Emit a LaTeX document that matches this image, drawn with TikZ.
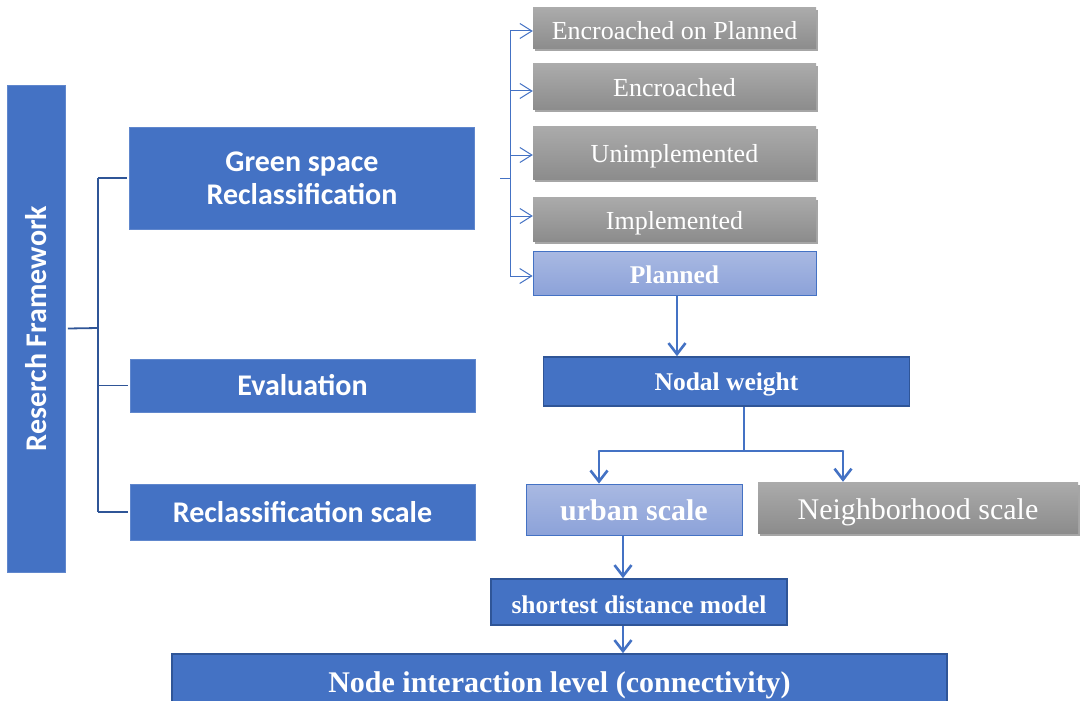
\documentclass[tikz,border=0pt]{standalone}
\usepackage{fontspec}
\setmainfont{Liberation Serif}
\newfontfamily\calfont{Carlito}
\usetikzlibrary{arrows.meta,shadows}
\definecolor{mblue}{HTML}{4472C4}
\definecolor{dblue}{HTML}{2F5597}
\definecolor{gtop}{HTML}{ABABAB}
\definecolor{gbot}{HTML}{8C8C8C}
\definecolor{ltop}{HTML}{A9B9E2}
\definecolor{lbot}{HTML}{8CA2D9}
\begin{document}
\begin{tikzpicture}[x=1pt,y=-1pt,
  basel/.style={text height=#1, text depth=0pt},
  bluebox/.style={fill=mblue, draw=mblue!85!white, line width=0.8pt, text=white, inner sep=0pt, align=center,
    font=\calfont\bfseries\fontsize{30}{33}\selectfont},
  darkbox/.style={fill=mblue, draw=dblue, line width=1.6pt, text=white, inner sep=0pt,
    font=\bfseries\fontsize{25.5}{28}\selectfont},
  graybox/.style={top color=gtop, bottom color=gbot, draw=none, text=white, inner sep=0pt,
    drop shadow={shadow xshift=2pt, shadow yshift=-2.5pt, opacity=0.35, fill=black},
    font=\fontsize{26}{28}\selectfont, basel=20pt},
  lightbox/.style={top color=ltop, bottom color=lbot, draw=mblue, line width=0.8pt, text=white, inner sep=0pt,
    font=\bfseries\fontsize{25.5}{28}\selectfont},
  conn/.style={draw=dblue, line width=1.8pt},
  thinconn/.style={draw=mblue, line width=1pt},
  thinarr/.style={draw=mblue, line width=1pt, -{Straight Barb[length=12pt, width=15pt]}},
  thickconn/.style={draw=mblue, line width=2.6pt},
  thickarr/.style={draw=mblue, line width=2.6pt, -{Straight Barb[length=11pt, width=17pt]}}]
\clip (0,0) rectangle (1080,701);
\fill[white] (0,0) rectangle (1080,701);

% left column
\node[bluebox, minimum width=58, minimum height=487] (rf) at (36.5,328.5) {};
\node[rotate=90, text=white, font=\calfont\bfseries\fontsize{30}{33}\selectfont] (rft) at (rf.center) {Reserch Framework};
\node[bluebox, minimum width=345, minimum height=102] (green) at (302,178) {Green space\\Reclassification};
\node[bluebox, minimum width=345, minimum height=53] (eval) at (302.5,385.5) {Evaluation};
\node[bluebox, minimum width=345, minimum height=56] (rscale) at (302.5,512) {Reclassification scale};

\coordinate (bx) at (98,328);
\draw[conn] ([xshift=2pt]rf.east) -- (bx);
\draw[conn] (green.west -| bx) -- (rscale.west -| bx);
\draw[conn] (green.west -| bx) -- ([xshift=-2pt]green.west);
\draw[conn] (eval.west -| bx) -- ([xshift=-2pt]eval.west);
\draw[conn] (rscale.west -| bx) -- ([xshift=-2pt]rscale.west);

% right column, categories
\node[graybox, basel=23pt, minimum width=283, minimum height=41] (eop) at (674.5,28.5) {Encroached on Planned};
\node[graybox, minimum width=283, minimum height=46] (enc) at (674.5,87) {Encroached};
\node[graybox, minimum width=283, minimum height=53] (unimp) at (674.5,152.5) {Unimplemented};
\node[graybox, minimum width=283, minimum height=44] (imp) at (674.5,219) {Implemented};
\node[lightbox, basel=20pt, minimum width=283, minimum height=44] (planned) at (674.5,273) {Planned};

\coordinate (tb) at (500,178);
\coordinate (vx) at (510,178);
\draw[thinconn] (tb) -- (vx);
\draw[thinconn] ([yshift=-2.5pt]eop.west -| vx) -- ([yshift=-3pt]planned.west -| vx);
\draw[thinarr] ([yshift=-2.5pt]eop.west -| vx) -- ([yshift=-2.5pt]eop.west);
\draw[thinarr] ([yshift=-4pt]enc.west -| vx) -- ([yshift=-4pt]enc.west);
\draw[thinarr] ([yshift=-2.5pt]unimp.west -| vx) -- ([yshift=-2.5pt]unimp.west);
\draw[thinarr] ([yshift=3pt]imp.west -| vx) -- ([yshift=3pt]imp.west);
\draw[thinarr] ([yshift=-3pt]planned.west -| vx) -- ([yshift=-3pt]planned.west);

% evaluation chain
\node[darkbox, basel=17pt, minimum width=366, minimum height=49] (nodal) at (726.5,381.5) {Nodal weight};
\draw[thickarr] ([xshift=2.5pt]planned.south) -- ([xshift=2.5pt]planned.south |- nodal.north);

\node[lightbox, basel=21pt, minimum width=216, minimum height=51, font=\bfseries\fontsize{30}{32}\selectfont] (urban) at (634,509.5) {urban scale};
\node[graybox, basel=23pt, minimum width=320, minimum height=51, font=\fontsize{30}{32}\selectfont] (neigh) at (918,507.5) {Neighborhood scale};

\coordinate (nb) at (744,451);
\coordinate (ul) at (599,451);
\coordinate (nl) at (843,451);
\draw[thickconn] (nodal.south -| nb) -- (nb);
\draw[thickconn, line cap=round] (ul) -- (nl);
\draw[thickarr] (ul) -- (ul |- urban.north);
\draw[thickarr] (nl) -- (nl |- neigh.north);

\node[darkbox, basel=22pt, minimum width=296, minimum height=46] (short) at (639,602) {shortest distance model};
\coordinate (sx) at (623,560);
\draw[thickarr] (urban.south -| sx) -- (short.north -| sx);

\node[darkbox, basel=18pt, minimum width=775, minimum height=58, font=\bfseries\fontsize{30}{32}\selectfont] (nil) at (559.5,683) {Node interaction level (connectivity)};
\draw[thickarr] (short.south -| sx) -- (nil.north -| sx);
\end{tikzpicture}
\end{document}
